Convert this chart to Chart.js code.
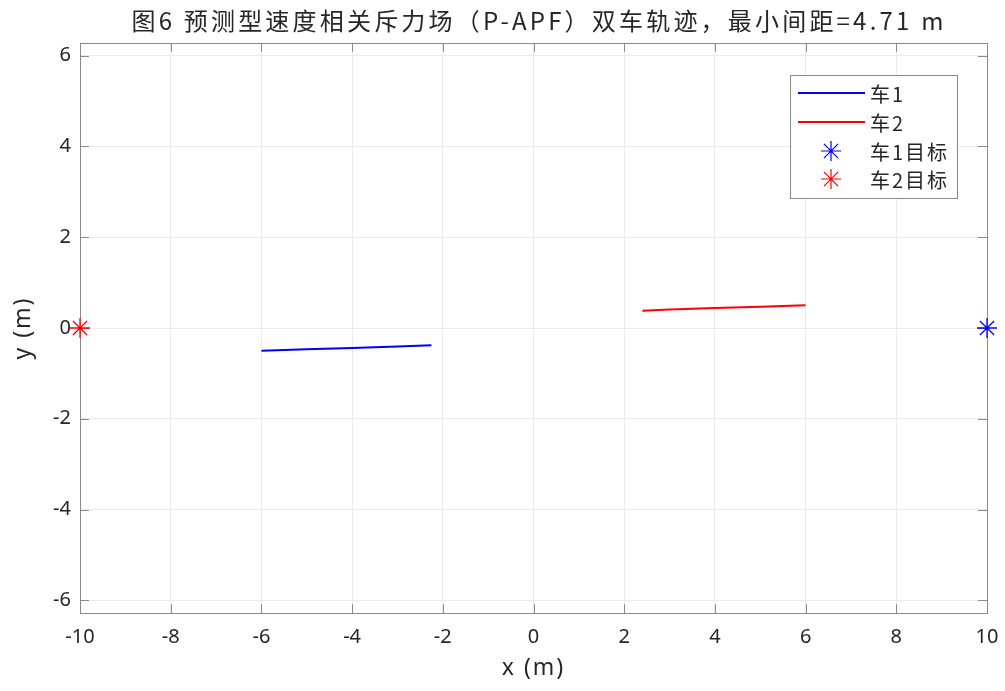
<!DOCTYPE html>
<html>
<head>
<meta charset="utf-8">
<script src="https://cdn.jsdelivr.net/npm/chart.js@4/dist/chart.umd.min.js"></script>
<style>
html,body{margin:0;padding:0;background:#fff;}
#wrap{width:1005px;height:691px;position:relative;}
</style>
</head>
<body>
<div id="wrap"><canvas id="c" width="1005" height="691"></canvas></div>
<script>
// ---- data ----
const titleText = '图6 预测型速度相关斥力场（P-APF）双车轨迹，最小间距=4.71 m';
const xLabel = 'x (m)';
const yLabel = 'y (m)';
const legendLabels = ['车1', '车2', '车1目标', '车2目标'];
const xTicks = [-10, -8, -6, -4, -2, 0, 2, 4, 6, 8, 10];
const yTicks = [-6, -4, -2, 0, 2, 4, 6];
const car1X = [-6.0, -5.0, -4.0, -3.0, -2.25];
const car1Y = [-0.50, -0.47, -0.44, -0.41, -0.38];
const car2X = [6.0, 5.0, 4.0, 3.0, 2.4];
const car2Y = [0.50, 0.47, 0.44, 0.41, 0.38];
const goal1 = [10, 0];
const goal2 = [-10, 0];

const BLUE = '#0000ff', RED = '#ff0000';
const AXIS = '#8a8a8a', TXT = '#262626';
const CJK = '"Noto Sans CJK SC","Noto Sans",sans-serif';

function pts(xs, ys){ return xs.map((x,i)=>({x:x, y:ys[i]})); }

const overlay = {
  id: 'overlay',
  beforeDatasetsDraw(chart){
    const {ctx, chartArea:a} = chart;
    ctx.save();
    ctx.strokeStyle = AXIS; ctx.lineWidth = 1;
    ctx.strokeRect(Math.round(a.left)+0.5, Math.round(a.top)+0.5, Math.round(a.right-a.left), Math.round(a.bottom-a.top));
    const xs = chart.scales.x, ys = chart.scales.y, L = 9;
    ctx.beginPath();
    xTicks.forEach(v=>{
      const p = Math.round(xs.getPixelForValue(v))+0.5;
      ctx.moveTo(p, a.bottom); ctx.lineTo(p, a.bottom - L);
      ctx.moveTo(p, a.top); ctx.lineTo(p, a.top + L);
    });
    yTicks.forEach(v=>{
      const p = Math.round(ys.getPixelForValue(v))+0.5;
      ctx.moveTo(a.left, p); ctx.lineTo(a.left + L, p);
      ctx.moveTo(a.right, p); ctx.lineTo(a.right - L, p);
    });
    ctx.stroke();
    ctx.restore();
  },
  afterDraw(chart){
    const {ctx, chartArea:a} = chart;
    ctx.save();
    ctx.fillStyle = TXT;
    ctx.textAlign = 'left'; ctx.textBaseline = 'middle';
    function centered(text, cx, cy){
      const w = ctx.measureText(text).width;
      ctx.fillText(text, cx - w/2, cy);
    }
    // title
    ctx.font = '24px ' + CJK;
    ctx.letterSpacing = '3.2px';
    centered(titleText, 539, 21);
    // axis labels
    ctx.font = '23px "Noto Sans", sans-serif';
    ctx.letterSpacing = '2px';
    centered(xLabel, (a.left + a.right)/2, 668);
    ctx.save();
    ctx.translate(23, (a.top + a.bottom)/2);
    ctx.rotate(-Math.PI/2);
    centered(yLabel, 0, 0);
    ctx.restore();
    // legend
    const bx = 790, by = 75, bw = 167, bh = 123;
    ctx.fillStyle = '#fff';
    ctx.fillRect(bx, by, bw, bh);
    ctx.strokeStyle = AXIS; ctx.lineWidth = 1;
    ctx.strokeRect(bx+0.5, by+0.5, bw, bh);
    const rows = [93, 122, 151, 179];
    const cols = [BLUE, RED, BLUE, RED];
    ctx.font = '20px ' + CJK;
    ctx.letterSpacing = '2px';
    rows.forEach((ry, i)=>{
      ctx.strokeStyle = cols[i];
      if (i < 2) {
        ctx.lineWidth = 2;
        ctx.beginPath(); ctx.moveTo(798, ry); ctx.lineTo(865, ry); ctx.stroke();
      } else {
        ctx.lineWidth = 1.2;
        const cx = 831, r = 10;
        ctx.beginPath();
        for (let k = 0; k < 4; k++) {
          const ang = k*Math.PI/4;
          ctx.moveTo(cx - r*Math.cos(ang), ry - r*Math.sin(ang));
          ctx.lineTo(cx + r*Math.cos(ang), ry + r*Math.sin(ang));
        }
        ctx.stroke();
      }
      ctx.fillStyle = TXT;
      ctx.fillText(legendLabels[i], 870, ry + 1);
    });
    ctx.restore();
  }
};

new Chart(document.getElementById('c'), {
  type: 'scatter',
  data: {
    datasets: [
      {label: legendLabels[0], data: pts(car1X, car1Y), showLine: true, borderColor: BLUE, borderWidth: 2, pointRadius: 0, fill: false},
      {label: legendLabels[1], data: pts(car2X, car2Y), showLine: true, borderColor: RED, borderWidth: 2, pointRadius: 0, fill: false},
      {label: legendLabels[2], data: [{x: goal1[0], y: goal1[1]}], pointStyle: 'star', pointRadius: 10, borderColor: BLUE, backgroundColor: BLUE, pointBorderWidth: 1.3, clip: false},
      {label: legendLabels[3], data: [{x: goal2[0], y: goal2[1]}], pointStyle: 'star', pointRadius: 10, borderColor: RED, backgroundColor: RED, pointBorderWidth: 1.3, clip: false}
    ]
  },
  options: {
    responsive: false,
    animation: false,
    layout: {padding: {top: 43, right: 18, left: 0, bottom: 0}},
    plugins: {legend: {display: false}, title: {display: false}, tooltip: {enabled: false}},
    scales: {
      x: {
        type: 'linear', min: -10, max: 10,
        afterBuildTicks(s){ s.ticks = xTicks.map(v=>({value: v})); },
        afterFit(s){ s.height = 78; s.paddingLeft = 0; s.paddingRight = 0; },
        grid: {color: '#ebebeb', drawTicks: false},
        border: {display: false},
        ticks: {padding: 12, color: TXT, font: {family: 'Noto Sans', size: 20}, maxRotation: 0, autoSkip: false}
      },
      y: {
        type: 'linear', min: -6.28, max: 6.28,
        afterBuildTicks(s){ s.ticks = yTicks.map(v=>({value: v})); },
        afterFit(s){ s.width = 80; s.paddingTop = 0; s.paddingBottom = 0; },
        grid: {color: '#ebebeb', drawTicks: false},
        border: {display: false},
        ticks: {padding: 9, color: TXT, font: {family: 'Noto Sans', size: 20}, autoSkip: false}
      }
    }
  },
  plugins: [overlay]
});
</script>
</body>
</html>
